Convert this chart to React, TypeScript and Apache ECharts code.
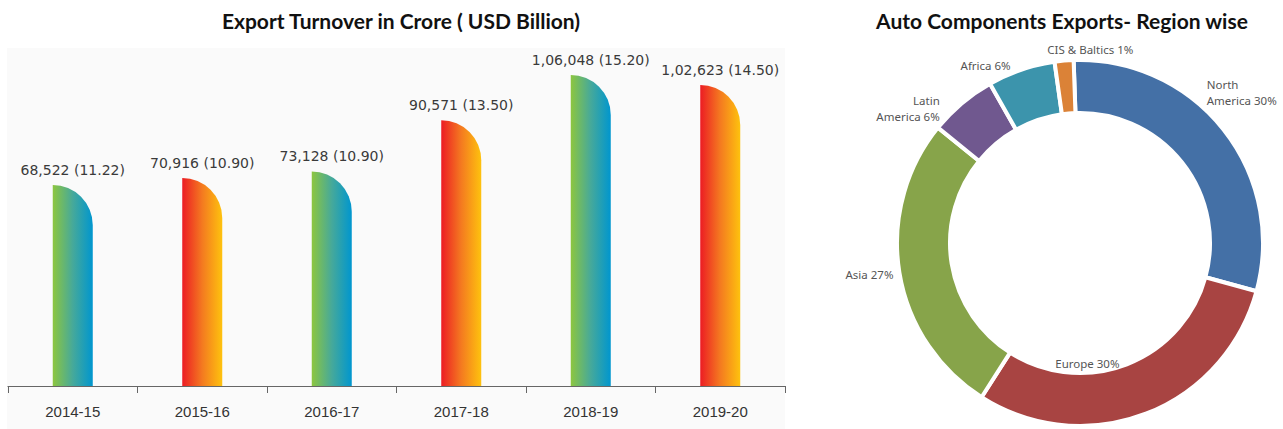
import React, { useEffect, useRef } from "react";
import * as echarts from "echarts";

const years = ["2014-15", "2015-16", "2016-17", "2017-18", "2018-19", "2019-20"];
const turnoverCrore = [68522, 70916, 73128, 90571, 106048, 102623];
const turnoverUsdBn = [11.22, 10.9, 10.9, 13.5, 15.2, 14.5];
const greenBlue = ["#8dc63f", "#46a99a", "#0096cf"];
const redYellow = ["#ec1c24", "#f47a20", "#fec20e"];

const regions = ["North\nAmerica", "Europe", "Asia", "Latin\nAmerica", "Africa", "CIS & Baltics"];
const regionShares = [30, 30, 27, 6, 6, 1];
const regionColors = ["#4470a6", "#a84442", "#87a44a", "#70588f", "#3c94ac", "#db8237"];

// label nudges (layout only)
const labelNudges: Array<[number, number]> = [
  [-28, -32],
  [-50, -28],
  [7, 1],
  [-12, 11],
  [-3, 3],
  [75, -3],
];

function indianFormat(n: number): string {
  const s = String(Math.round(n));
  if (s.length <= 3) return s;
  const last3 = s.slice(-3);
  let rest = s.slice(0, -3);
  const parts: string[] = [];
  while (rest.length > 2) {
    parts.unshift(rest.slice(-2));
    rest = rest.slice(0, -2);
  }
  if (rest.length) parts.unshift(rest);
  return parts.join(",") + "," + last3;
}

export default function App() {
  const ref = useRef<HTMLDivElement>(null);
  useEffect(() => {
    if (!ref.current) return;
    const chart = echarts.init(ref.current, undefined, { renderer: "svg" });
    const grad = (stops: string[]) =>
      new echarts.graphic.LinearGradient(0, 0, 1, 0, [
        { offset: 0, color: stops[0] },
        { offset: 0.5, color: stops[1] },
        { offset: 1, color: stops[2] },
      ]);
    chart.setOption({
      animation: false,
      backgroundColor: "#ffffff",
      graphic: [
        {
          type: "rect",
          z: -10,
          silent: true,
          shape: { x: 7, y: 48, width: 778, height: 381 },
          style: { fill: "#fafafa" },
        },
      ],
      title: [
        {
          text: "Export Turnover in Crore ( USD Billion)",
          left: 396,
          top: 5,
          textAlign: "center",
          textStyle: { fontFamily: "Lato", fontWeight: "bold", fontSize: 21, color: "#111" },
        },
        {
          text: "Auto Components Exports- Region wise",
          left: 1057,
          top: 5,
          textAlign: "center",
          textStyle: { fontFamily: "Lato", fontWeight: "bold", fontSize: 21, color: "#111" },
        },
      ],
      grid: { left: 8, right: 498, top: 34, bottom: 43, containLabel: false },
      xAxis: {
        type: "category",
        data: years,
        boundaryGap: true,
        axisLine: { lineStyle: { color: "#666", width: 1.2 } },
        axisTick: { show: true, length: 7, interval: 0, lineStyle: { color: "#666" } },
        axisLabel: {
          margin: 18,
          fontFamily: "Liberation Sans",
          fontSize: 15,
          color: "#333",
        },
      },
      yAxis: {
        type: "value",
        min: 0,
        max: 120000,
        show: false,
        splitLine: { show: false },
      },
      series: [
        {
          type: "bar",
          barWidth: 40,
          data: turnoverCrore.map((v, i) => ({
            value: v,
            itemStyle: {
              color: grad(i % 2 === 0 ? greenBlue : redYellow),
              borderRadius: [0, 40, 0, 0],
            },
          })),
          label: {
            show: true,
            position: "top",
            distance: 8,
            fontFamily: "DejaVu Sans",
            fontSize: 14,
            color: "#3a3a3a",
            formatter: (p: any) =>
              `${indianFormat(turnoverCrore[p.dataIndex])} (${turnoverUsdBn[p.dataIndex].toFixed(2)})`,
          },
        },
        {
          type: "pie",
          center: [1080, 243],
          radius: [130, 183],
          startAngle: 92,
          clockwise: true,
          minAngle: 6,
          avoidLabelOverlap: false,
          itemStyle: { borderColor: "#ffffff", borderWidth: 4 },
          label: {
            show: true,
            position: "outside",
            fontFamily: "Noto Sans",
            fontSize: 11.5,
            color: "#555",
            lineHeight: 16,
            formatter: (p: any) => `${p.name} ${p.value}%`,
          },
          labelLine: { show: false, length: 8, length2: 0 },
          labelLayout: (p: any) => {
            const n = labelNudges[p.dataIndex] || [0, 0];
            return { dx: n[0], dy: n[1] };
          },
          data: regions.map((r, i) => ({
            name: r,
            value: regionShares[i],
            itemStyle: { color: regionColors[i] },
            label: i === 1 ? { position: "inside", color: "#555" } : undefined,
          })),
        },
      ],
    });
    return () => chart.dispose();
  }, []);
  return (
    <div
      ref={ref}
      style={{ position: "fixed", left: 0, top: 0, width: 1283, height: 429 }}
    />
  );
}
